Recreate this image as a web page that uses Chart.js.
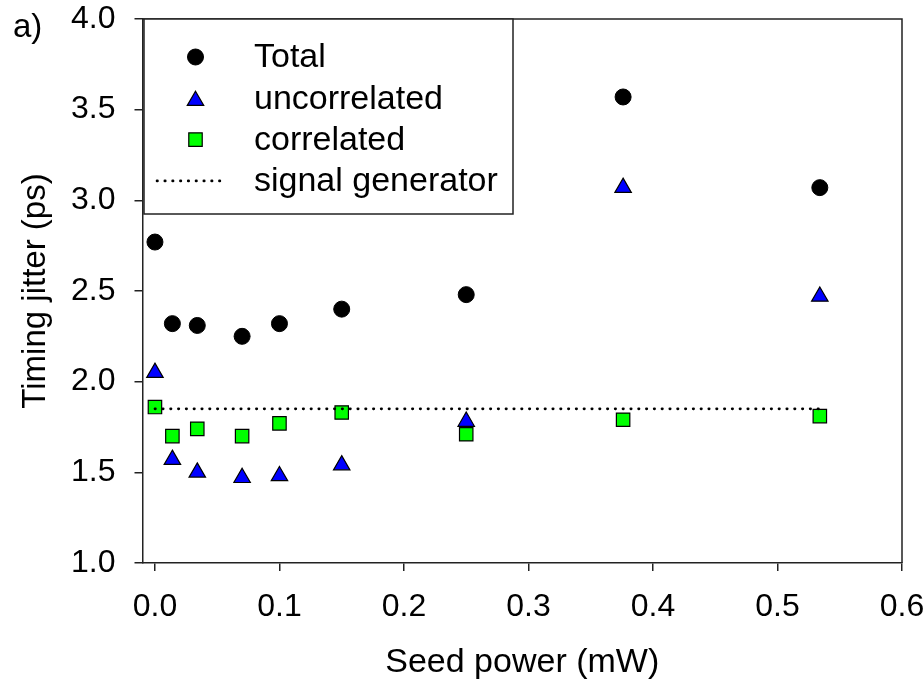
<!DOCTYPE html>
<html>
<head>
<meta charset="utf-8">
<script src="https://cdn.jsdelivr.net/npm/chart.js@4.4.0/dist/chart.umd.min.js"></script>
<style>
  html, body { margin: 0; padding: 0; background: #fff; }
  #wrap { width: 924px; height: 683px; position: relative; }
</style>
</head>
<body>
<div id="wrap"><canvas id="jitterChart"></canvas></div>
<script>
// Timing jitter vs. seed power, three measured components plus the
// signal-generator reference level.
const seedPower = [0, 0.014, 0.034, 0.07, 0.10, 0.15, 0.25, 0.376, 0.534];
const totalJitter = [2.77, 2.32, 2.31, 2.25, 2.32, 2.40, 2.48, 3.57, 3.07];
const uncorrelatedJitter = [2.05, 1.57, 1.50, 1.47, 1.48, 1.54, 1.78, 3.07, 2.47];
const correlatedJitter = [1.86, 1.70, 1.74, 1.70, 1.77, 1.83, 1.71, 1.79, 1.81];
const signalGenPower = [0, 0.534];
const signalGenJitter = [1.85, 1.85];
const xTicks = [0, 0.1, 0.2, 0.3, 0.4, 0.5, 0.6];
const yTicks = [1.0, 1.5, 2.0, 2.5, 3.0, 3.5, 4.0];
const panelLabel = 'a)';

const FONT = '"Liberation Sans", Arial, Helvetica, sans-serif';
const AXIS = '#222';

const toPoints = (xs, ys) => xs.map((x, i) => ({ x, y: ys[i] }));

// same geometry as Chart.js point styles, used for the boxed legend
function drawMarker(ctx, ds, x, y) {
  const r = ds.pointRadius;
  ctx.beginPath();
  if (ds.pointStyle === 'circle') {
    ctx.arc(x, y, r, 0, Math.PI * 2);
  } else if (ds.pointStyle === 'triangle') {
    const w = r * Math.sin(Math.PI / 3);
    ctx.moveTo(x, y - r);
    ctx.lineTo(x + w, y + r / 2);
    ctx.lineTo(x - w, y + r / 2);
    ctx.closePath();
  } else {
    const s = r * Math.SQRT1_2;
    ctx.rect(x - s, y - s, 2 * s, 2 * s);
  }
  ctx.fillStyle = ds.pointBackgroundColor;
  ctx.fill();
  ctx.lineWidth = ds.pointBorderWidth;
  ctx.strokeStyle = ds.pointBorderColor;
  ctx.stroke();
}

const framePlugin = {
  id: 'frame',
  afterDraw(chart) {
    const { ctx, chartArea: a } = chart;
    ctx.save();
    ctx.strokeStyle = AXIS;
    ctx.lineWidth = 1.5;
    ctx.beginPath();
    ctx.moveTo(a.left, a.top);
    ctx.lineTo(a.right, a.top);
    ctx.lineTo(a.right, a.bottom);
    ctx.stroke();

    ctx.fillStyle = '#000';
    ctx.font = `33px ${FONT}`;
    ctx.textBaseline = 'alphabetic';
    ctx.textAlign = 'left';
    ctx.fillText(panelLabel, 13, 37);
    ctx.restore();
  },
};

const boxLegendPlugin = {
  id: 'boxLegend',
  afterDraw(chart) {
    const { ctx, chartArea: a } = chart;
    const left = a.left + 1.5;
    const top = a.top;
    ctx.save();
    ctx.fillStyle = '#fff';
    ctx.fillRect(left, top, 369, 195);
    ctx.strokeStyle = AXIS;
    ctx.lineWidth = 1.5;
    ctx.strokeRect(left, top, 369, 195);

    const items = chart.data.datasets
      .slice()
      .sort((p, q) => p.legendRank - q.legendRank);
    ctx.font = `34px ${FONT}`;
    ctx.textBaseline = 'middle';
    items.forEach((ds, i) => {
      const y = top + 38 + i * 41.3;
      const mx = left + 51.5;
      if (ds.showLine) {
        ctx.save();
        ctx.strokeStyle = ds.borderColor;
        ctx.lineWidth = ds.borderWidth;
        ctx.lineCap = 'round';
        ctx.setLineDash(ds.borderDash);
        ctx.beginPath();
        ctx.moveTo(left + 13, y);
        ctx.lineTo(left + 80, y);
        ctx.stroke();
        ctx.restore();
      } else {
        const dy = ds.pointStyle === 'triangle' ? ds.pointRadius / 4 : 0;
        drawMarker(ctx, ds, mx, y + dy);
      }
      ctx.fillStyle = '#000';
      ctx.fillText(ds.label, left + 110, y + 1);
    });
    ctx.restore();
  },
};

new Chart(document.getElementById('jitterChart'), {
  type: 'scatter',
  data: {
    datasets: [
      {
        label: 'signal generator',
        legendRank: 3,
        order: 0,
        data: toPoints(signalGenPower, signalGenJitter),
        showLine: true,
        borderColor: '#000',
        borderWidth: 2.6,
        borderDash: [0.5, 7.3],
        borderCapStyle: 'round',
        pointRadius: 0,
      },
      {
        label: 'Total',
        legendRank: 0,
        order: 3,
        data: toPoints(seedPower, totalJitter),
        pointStyle: 'circle',
        pointRadius: 8,
        pointBackgroundColor: '#000',
        pointBorderColor: '#000',
        pointBorderWidth: 1,
      },
      {
        label: 'uncorrelated',
        legendRank: 1,
        order: 2,
        data: toPoints(seedPower, uncorrelatedJitter),
        pointStyle: 'triangle',
        pointRadius: 9.5,
        pointBackgroundColor: '#0000ff',
        pointBorderColor: '#000',
        pointBorderWidth: 1.2,
      },
      {
        label: 'correlated',
        legendRank: 2,
        order: 1,
        data: toPoints(seedPower, correlatedJitter),
        pointStyle: 'rect',
        pointRadius: 9.5,
        pointBackgroundColor: '#00ff00',
        pointBorderColor: '#000',
        pointBorderWidth: 1.2,
      },
    ],
  },
  options: {
    responsive: true,
    maintainAspectRatio: false,
    animation: false,
    events: [],
    layout: { padding: 0 },
    scales: {
      x: {
        type: 'linear',
        min: -0.01,
        max: 0.6,
        afterBuildTicks: (s) => { s.ticks = xTicks.map((value) => ({ value })); },
        // pin the plot box: 120px below it, 22px to the right
        afterFit: (s) => { s.height = 120; s.paddingLeft = 0; s.paddingRight = 22; },
        ticks: {
          callback: (v) => v.toFixed(1),
          font: { family: FONT, size: 32 },
          color: '#000',
          padding: 17,
          maxRotation: 0,
          autoSkip: false,
        },
        grid: { drawOnChartArea: false, drawTicks: true, tickLength: 8, color: AXIS, lineWidth: 1.5 },
        border: { display: true, color: AXIS, width: 1.5 },
        title: {
          display: true,
          text: 'Seed power (mW)',
          font: { family: FONT, size: 34 },
          color: '#000',
          padding: { top: 0, bottom: 0 },
        },
      },
      y: {
        type: 'linear',
        min: 1,
        max: 4,
        afterBuildTicks: (s) => { s.ticks = yTicks.map((value) => ({ value })); },
        afterFit: (s) => { s.width = 142.5; s.paddingTop = 19; s.paddingBottom = 0; },
        ticks: {
          callback: (v) => v.toFixed(1),
          font: { family: FONT, size: 32 },
          color: '#000',
          padding: 19,
          autoSkip: false,
        },
        grid: { drawOnChartArea: false, drawTicks: true, tickLength: 8, color: AXIS, lineWidth: 1.5 },
        border: { display: true, color: AXIS, width: 1.5 },
        title: {
          display: true,
          text: 'Timing jitter (ps)',
          font: { family: FONT, size: 33 },
          color: '#000',
          padding: { top: 16, bottom: 0 },
        },
      },
    },
    plugins: {
      legend: { display: false },
      tooltip: { enabled: false },
    },
  },
  plugins: [framePlugin, boxLegendPlugin],
});
</script>
</body>
</html>
